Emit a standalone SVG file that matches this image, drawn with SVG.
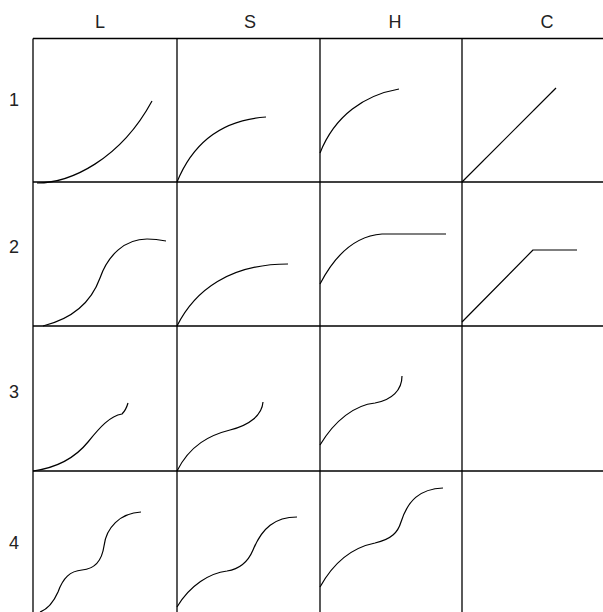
<svg xmlns="http://www.w3.org/2000/svg" width="603" height="612" viewBox="0 0 603 612">
<style>
  .grid { stroke: #000; stroke-width: 1.3; fill: none; }
  .curve { stroke: #000; stroke-width: 1.2; fill: none; stroke-linejoin: round; }
  .lbl { font-family: "Liberation Sans", Arial, sans-serif; font-size: 18px; fill: #222; text-anchor: middle; }
</style>
<rect width="603" height="612" fill="#fff"/>
<g id="headers">
  <text class="lbl" x="100" y="28">L</text>
  <text class="lbl" x="250" y="28">S</text>
  <text class="lbl" x="395" y="28">H</text>
  <text class="lbl" x="547" y="28">C</text>
  <text class="lbl" x="14" y="106">1</text>
  <text class="lbl" x="14" y="253">2</text>
  <text class="lbl" x="14" y="398">3</text>
  <text class="lbl" x="14" y="549">4</text>
</g>
<g id="grid" class="grid">
  <line x1="33" y1="38.5" x2="603" y2="38.5"/>
  <line x1="33" y1="182" x2="603" y2="182"/>
  <line x1="33" y1="326" x2="603" y2="326"/>
  <line x1="33" y1="471" x2="603" y2="471"/>
  <line x1="33" y1="38.5" x2="33" y2="612"/>
  <line x1="177" y1="38.5" x2="177" y2="612"/>
  <line x1="320" y1="38.5" x2="320" y2="612"/>
  <line x1="462" y1="38.5" x2="462" y2="612"/>
</g>
<g id="L1"><path class="curve" d="M37,183 C70,183 120,160 152,101"/></g>
<g id="S1"><path class="curve" d="M177,182 C192,145 220,120 266,117"/></g>
<g id="H1"><path class="curve" d="M320,153 C335,115 365,95 399,89"/></g>
<g id="C1"><path class="curve" d="M462,182 L556,88"/></g>
<g id="L2"><path class="curve" d="M43,326 C75,318 92,300 100,278 C108,255 125,239 147,239 C155,239 161,240 166,241"/></g>
<g id="S2"><path class="curve" d="M177,326 C195,290 230,264 288,264"/></g>
<g id="H2"><path class="curve" d="M320,284 C335,255 355,236 382,234 L446,234"/></g>
<g id="C2"><path class="curve" d="M462,322 L533,250 L577,250"/></g>
<g id="L3"><path class="curve" d="M33,471 C55,468 75,458 88,442 C100,427 110,416 122,414 Q126,410 128,403"/></g>
<g id="S3"><path class="curve" d="M177,471 C190,445 210,435 230,430 C250,425 262,415 263,402"/></g>
<g id="H3"><path class="curve" d="M320,445 C335,420 355,405 375,403 C392,400 402,390 402,376"/></g>
<g id="L4"><path class="curve" d="M40,612 C48,609 54,601 58,592 C63,578 70,571 82,570 C95,569 102,560 104,546 C106,528 120,513 141,512"/></g>
<g id="S4"><path class="curve" d="M177,607 C190,585 210,573 227,571 C240,569 248,562 253,550 C262,528 275,517 297,517"/></g>
<g id="H4"><path class="curve" d="M320,587 C335,560 355,547 375,543 C392,539 398,532 401,522 C408,500 420,489 443,488"/></g>
</svg>
